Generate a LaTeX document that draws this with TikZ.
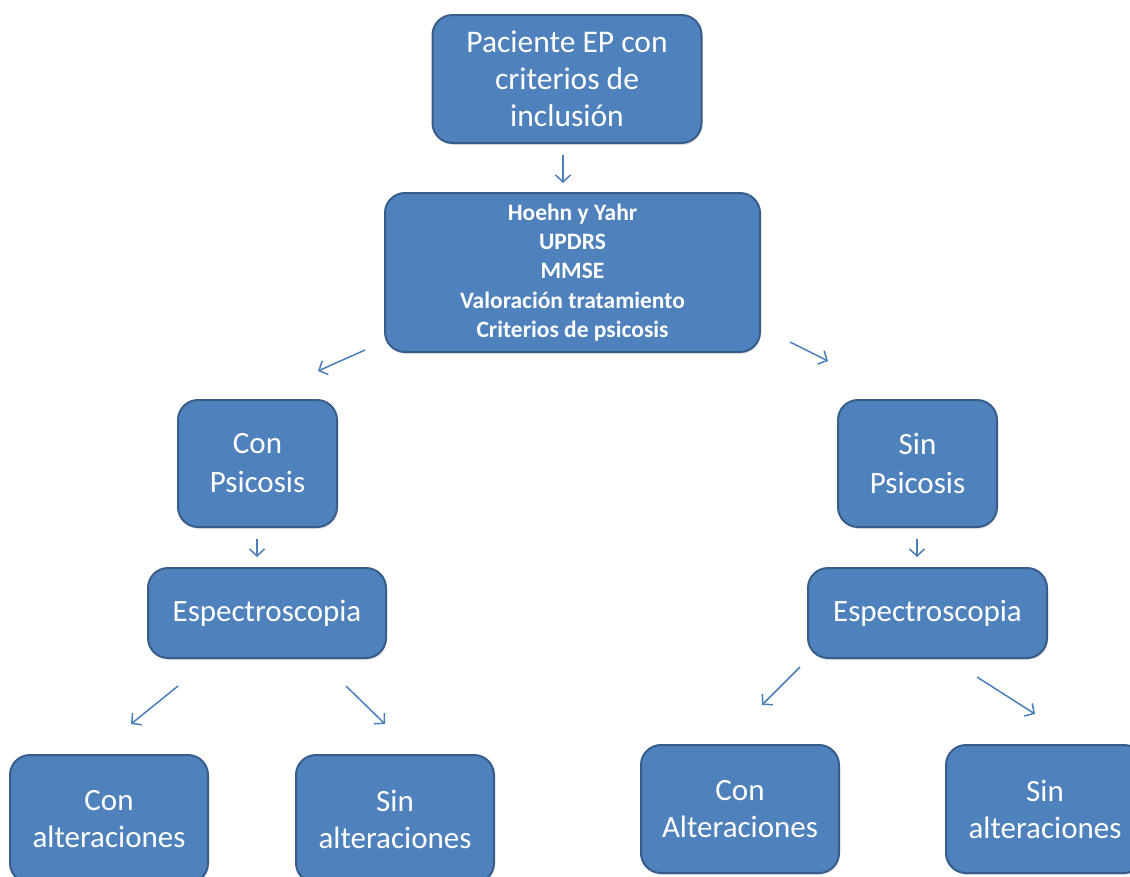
\documentclass[tikz,border=0pt]{standalone}
\usepackage{fontspec}
\setmainfont{Carlito}
\usetikzlibrary{arrows.meta,shadows}

\definecolor{boxfill}{HTML}{4F81BD}
\definecolor{boxline}{HTML}{385D8A}
\definecolor{arrline}{HTML}{4A7EBB}

\tikzset{
  box/.style={draw=boxline, fill=boxfill, line width=2pt, rounded corners=20pt,
    text=white, align=center, inner sep=0pt,
    drop shadow={opacity=0.2, shadow xshift=1pt, shadow yshift=-2pt}},
  arr/.style={draw=arrline, line width=1.5pt, -{Straight Barb[length=7pt,width=15pt]}}
}

\begin{document}
\begin{tikzpicture}[x=1pt, y=-1pt]
      \useasboundingbox (0,0) rectangle (1130,876);

      % Patient
      \node[box, minimum width=269pt, minimum height=128pt, font=\fontsize{31.5}{37}\selectfont]
        (patient) at (567,79) {Paciente EP con\\criterios de\\inclusión};

      % Assessment
      \node[box, minimum width=375pt, minimum height=159pt, font=\fontsize{23.5}{29.3}\selectfont\bfseries]
        (assess) at (572.5,272.5) {Hoehn y Yahr\\UPDRS\\MMSE\\Valoración tratamiento\\Criterios de psicosis};

      % With / without psychosis
      \node[box, minimum width=159pt, minimum height=127pt, font=\fontsize{31}{39}\selectfont]
        (conpsi) at (257.5,463.5) {Con\\Psicosis};
      \node[box, minimum width=159pt, minimum height=127pt, font=\fontsize{31}{39}\selectfont]
        (sinpsi) at (917.5,463.5) {Sin\\Psicosis};

      % Spectroscopy
      \node[box, minimum width=238pt, minimum height=90pt, font=\fontsize{31}{34}\selectfont]
        (espleft) at (267,613) {Espectroscopia};
      \node[box, minimum width=239pt, minimum height=90pt, font=\fontsize{31}{34}\selectfont]
        (espright) at (927.5,613) {Espectroscopia};

      % Results
      \node[box, minimum width=198pt, minimum height=128pt, font=\fontsize{31}{37}\selectfont]
        (conalt1) at (109,819) {Con\\alteraciones};
      \node[box, minimum width=198pt, minimum height=128pt, font=\fontsize{31}{37}\selectfont]
        (sinalt1) at (395,819) {Sin\\alteraciones};
      \node[box, minimum width=198pt, minimum height=128pt, font=\fontsize{31}{37}\selectfont]
        (conalt2) at (740,809) {Con\\Alteraciones};
      \node[box, minimum width=198pt, minimum height=128pt, font=\fontsize{31}{37}\selectfont]
        (sinalt2) at (1045,809) {Sin\\alteraciones};

      % Arrow ends
      \coordinate (a1s) at (563,155);  \coordinate (a1e) at (563,183);
      \coordinate (a2s) at (365,350);  \coordinate (a2e) at (318,371);
      \coordinate (a3s) at (790,342);  \coordinate (a3e) at (828,361);
      \coordinate (a4s) at (257,539);  \coordinate (a4e) at (257,557);
      \coordinate (a5s) at (917,539);  \coordinate (a5e) at (917,557);
      \coordinate (a6s) at (178,686);  \coordinate (a6e) at (131,724);
      \coordinate (a7s) at (346,686);  \coordinate (a7e) at (385,724);
      \coordinate (a8s) at (800,667);  \coordinate (a8e) at (762,705);
      \coordinate (a9s) at (977,677);  \coordinate (a9e) at (1035,714);

      % Arrows
      \draw[arr] (a1s) -- (a1e);
      \draw[arr] (a2s) -- (a2e);
      \draw[arr] (a3s) -- (a3e);
      \draw[arr] (a4s) -- (a4e);
      \draw[arr] (a5s) -- (a5e);
      \draw[arr] (a6s) -- (a6e);
      \draw[arr] (a7s) -- (a7e);
      \draw[arr] (a8s) -- (a8e);
      \draw[arr] (a9s) -- (a9e);
    \end{tikzpicture}
\end{document}
